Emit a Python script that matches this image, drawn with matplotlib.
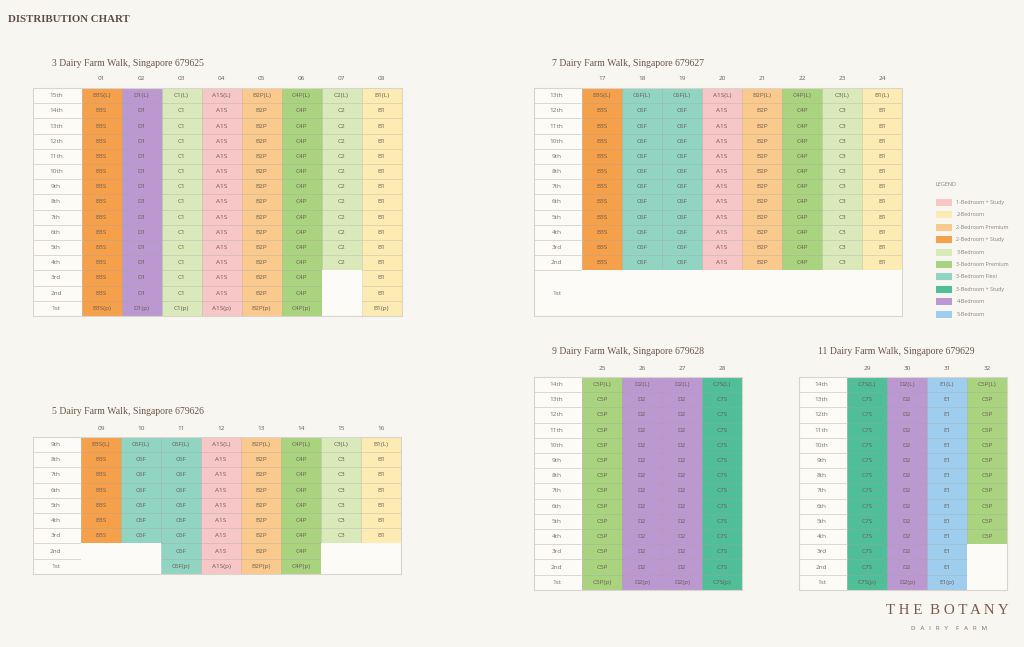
import matplotlib.pyplot as plt
from matplotlib.patches import Rectangle

# floor labels, top to bottom
FLOORS = ['15th', '14th', '13th', '12th', '11th', '10th', '9th', '8th',
          '7th', '6th', '5th', '4th', '3rd', '2nd', '1st']

LEGEND_LABELS = ['1-Bedroom + Study', '2-Bedroom', '2-Bedroom Premium',
                 '2-Bedroom + Study', '3-Bedroom', '3-Bedroom Premium',
                 '3-Bedroom Flexi', '3-Bedroom + Study', '4-Bedroom', '5-Bedroom']
LEGEND_COLORS = ['#F7C6C7', '#FDEBB4', '#FAC98D', '#F5A04B', '#D9E9BA',
                 '#A9D37F', '#92D4C2', '#4FBE99', '#BB98CF', '#9ECDED']

# unit type -> legend group
TYPE_GROUP = {'A1S': 0, 'B1': 1, 'B2P': 2, 'B3S': 3, 'C1': 4, 'C2': 4, 'C3': 4,
              'C4P': 5, 'C5P': 5, 'C6F': 6, 'C7S': 7, 'D1': 8, 'D2': 8, 'E1': 9}

# 3 Dairy Farm Walk
b3_stacks = ['01', '02', '03', '04', '05', '06', '07', '08']
b3_types = ['B3S', 'D1', 'C1', 'A1S', 'B2P', 'C4P', 'C2', 'B1']
b3_top = 15
b3_lowest = [1, 1, 1, 1, 1, 1, 4, 1]

# 7 Dairy Farm Walk
b7_stacks = ['17', '18', '19', '20', '21', '22', '23', '24']
b7_types = ['B3S', 'C6F', 'C6F', 'A1S', 'B2P', 'C4P', 'C3', 'B1']
b7_top = 13
b7_lowest = [2, 2, 2, 2, 2, 2, 2, 2]

# 5 Dairy Farm Walk
b5_stacks = ['09', '10', '11', '12', '13', '14', '15', '16']
b5_types = ['B3S', 'C6F', 'C6F', 'A1S', 'B2P', 'C4P', 'C3', 'B1']
b5_top = 9
b5_lowest = [3, 3, 1, 1, 1, 1, 3, 3]

# 9 Dairy Farm Walk
b9_stacks = ['25', '26', '27', '28']
b9_types = ['C5P', 'D2', 'D2', 'C7S']
b9_top = 14
b9_lowest = [1, 1, 1, 1]

# 11 Dairy Farm Walk
b11_stacks = ['29', '30', '31', '32']
b11_types = ['C7S', 'D2', 'E1', 'C5P']
b11_top = 14
b11_lowest = [1, 1, 1, 4]

BG = '#F8F6F0'
CELL_BG = '#FCFBF8'
LINE = '#DAD5CC'
TXT = '#6A5C54'
TITLE = '#6B5449'
SANS = ['Open Sans', 'DejaVu Sans']
SERIF = ['Liberation Serif', 'DejaVu Serif']

RH = 15.2   # row height
CW = 40.0   # stack column width
LW = 48.5   # floor label column width
FS = 4.6


def draw_block(ax, x0, y0, title, stacks, types, top, lowest, tall_ground=False):
    floors = FLOORS[len(FLOORS) - top:]
    heights = [RH] * len(floors)
    if tall_ground:
        heights[-1] = RH * 3
    ax.text(x0 - 29.5, y0 - 25, title, family=SERIF, fontsize=7, color=TITLE,
            ha='left', va='center')
    for j, s in enumerate(stacks):
        ax.text(x0 + CW * (j + 0.5), y0 - 9, s, family=SANS, fontsize=FS,
                color=TXT, ha='center', va='center')
    y = y0
    for i, fl in enumerate(floors):
        h = heights[i]
        f = top - i
        ax.add_patch(Rectangle((x0 - LW, y), LW, h, fc=CELL_BG, ec=LINE, lw=0.6))
        ax.text(x0 - LW + 23, y + h / 2, fl, family=SANS, fontsize=FS,
                color='#7C716A', ha='center', va='center')
        for j, t in enumerate(types):
            cx = x0 + CW * j
            if f >= lowest[j]:
                ax.add_patch(Rectangle((cx, y), CW, h, fc=LEGEND_COLORS[TYPE_GROUP[t]],
                                       ec=(0, 0, 0, 0.08), lw=0.6))
                lab = t
                if f == top:
                    lab = t + '(L)'
                elif f == 1:
                    lab = t + '(p)'
                ax.text(cx + CW / 2, y + h / 2, lab, family=SANS, fontsize=FS,
                        color=TXT, ha='center', va='center')
            else:
                ax.add_patch(Rectangle((cx, y), CW, h, fc=CELL_BG, ec='none'))
        y += h
    ax.add_patch(Rectangle((x0 - LW, y0), LW + CW * len(stacks), y - y0,
                           fill=False, ec=LINE, lw=0.8))


fig = plt.figure(figsize=(10.24, 6.47), dpi=100, facecolor=BG)
ax = fig.add_axes([0, 0, 1, 1])
ax.set_facecolor(BG)
ax.set_xlim(0, 1024)
ax.set_ylim(647, 0)
ax.axis('off')

ax.text(8, 20, 'DISTRIBUTION CHART', family=SERIF, fontsize=7.8, weight='bold',
        color='#5E4C44', ha='left', va='center')

draw_block(ax, 81.5, 88, '3 Dairy Farm Walk, Singapore 679625',
           b3_stacks, b3_types, b3_top, b3_lowest)
draw_block(ax, 582, 88, '7 Dairy Farm Walk, Singapore 679627',
           b7_stacks, b7_types, b7_top, b7_lowest, tall_ground=True)
draw_block(ax, 81, 437, '5 Dairy Farm Walk, Singapore 679626',
           b5_stacks, b5_types, b5_top, b5_lowest)
draw_block(ax, 582, 377, '9 Dairy Farm Walk, Singapore 679628',
           b9_stacks, b9_types, b9_top, b9_lowest)
draw_block(ax, 847, 377, '11 Dairy Farm Walk, Singapore 679629',
           b11_stacks, b11_types, b11_top, b11_lowest)

# legend
ax.text(936, 185, 'LEGEND', family=SANS, fontsize=4, color='#8A807A',
        ha='left', va='center')
for k, (lab, col) in enumerate(zip(LEGEND_LABELS, LEGEND_COLORS)):
    yc = 202.5 + k * 12.4
    ax.add_patch(Rectangle((936, yc - 3.5), 16, 7, fc=col, ec='none'))
    ax.text(956.5, yc, lab, family=SANS, fontsize=3.9, color='#8A807A',
            ha='left', va='center')

# logo
ax.text(947.5, 611, 'T H E  B O T A N Y', family=SERIF, fontsize=10.8, color='#7A5B4B',
        ha='center', va='center')
ax.text(949, 629, 'D   A   I   R   Y     F   A   R   M', family=SANS, fontsize=4.4,
        color='#7A6A60', ha='center', va='center')

fig.savefig('out.png', dpi=100, facecolor=BG)
